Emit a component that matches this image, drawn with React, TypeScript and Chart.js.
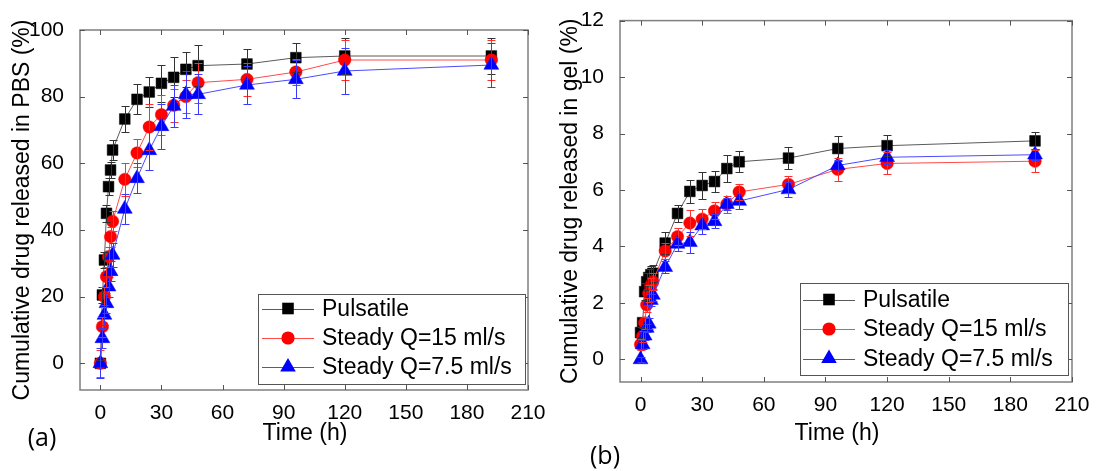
import React, { useEffect, useRef } from 'react';
import { Chart, registerables } from 'chart.js';

Chart.register(...registerables);

// ---- data ----
const times = [0, 1, 2, 3, 4, 5, 6, 12, 18, 24, 30, 36, 42, 48, 72, 96, 120, 192];
const xTickValues = [0, 30, 60, 90, 120, 150, 180, 210];
const yTickValuesA = [0, 20, 40, 60, 80, 100];
const yTickValuesB = [0, 2, 4, 6, 8, 10, 12];
const seriesLabels = ['Pulsatile', 'Steady Q=15 ml/s', 'Steady Q=7.5 ml/s'];

// (a) PBS
const pbsPulsatile = [0, 20.5, 31, 45, 53, 58, 64, 73.3, 79.2, 81.4, 84, 85.8, 88.2, 89.3, 89.8, 91.7, 92.2, 92.2];
const pbsSteady15 = [0, 11, 20, 26, 32, 38, 42.6, 55.2, 63.1, 70.9, 74.6, 77.4, 80, 84.2, 85.2, 87.4, 91, 91];
const pbsSteady75 = [0, 7.5, 14.5, 18, 23, 27.6, 32.5, 46.3, 55.5, 63.9, 71.1, 77.2, 80.7, 80.7, 83.5, 85.2, 87.7, 89.5];
const pbsPulsatileErr = [1, 2.5, 2.5, 2.5, 2.5, 2.5, 3, 4, 4.5, 4.4, 5.6, 6, 5.3, 6.2, 4.4, 4.3, 5.5, 5.5];
const pbsSteady15Err = [4, 3, 3, 3, 3, 3, 3, 5, 4.2, 7, 6, 5, 5, 6, 5, 4, 6, 6];
const pbsSteady75Err = [4.5, 3, 3, 3, 3, 3, 3.5, 4.5, 4.5, 5.9, 6.7, 6.3, 7, 6, 5.7, 5.7, 7, 6.5];

// (b) gel
const gelPulsatile = [0.95, 1.3, 2.4, 2.75, 2.9, 3.0, 3.05, 4.12, 5.17, 5.95, 6.16, 6.3, 6.76, 7.0, 7.13, 7.47, 7.57, 7.74];
const gelSteady15 = [0.53, 0.82, 1.29, 1.93, 2.34, 2.6, 2.75, 3.84, 4.35, 4.83, 4.97, 5.26, 5.5, 5.93, 6.2, 6.73, 6.94, 7.02];
const gelSteady75 = [0, 0.53, 0.84, 1.11, 1.26, 2.1, 2.28, 3.27, 4.09, 4.15, 4.74, 4.89, 5.5, 5.61, 6.02, 6.87, 7.16, 7.25];
const gelPulsatileErr = [0.2, 0.2, 0.3, 0.3, 0.3, 0.3, 0.3, 0.4, 0.3, 0.42, 0.47, 0.37, 0.47, 0.37, 0.4, 0.43, 0.38, 0.3];
const gelSteady15Err = [0.2, 0.2, 0.2, 0.25, 0.3, 0.3, 0.3, 0.3, 0.3, 0.45, 0.35, 0.3, 0.3, 0.3, 0.3, 0.4, 0.39, 0.39];
const gelSteady75Err = [0.1, 0.15, 0.15, 0.15, 0.2, 0.2, 0.2, 0.2, 0.25, 0.37, 0.3, 0.25, 0.2, 0.3, 0.25, 0.2, 0.25, 0.2];

// ---- styles ----
const FONT = "'Liberation Sans', Arial, sans-serif";
const styles = [
  { line: '#5a5a5a', fill: '#000000', err: '#333333', shape: 'rect', radius: 7.6, legendRadius: 8.2 },
  { line: '#ff4a4a', fill: '#ff0000', err: '#ff3030', shape: 'circle', radius: 6.2, legendRadius: 6.6 },
  { line: '#4a4aff', fill: '#0000ff', err: '#3a3aff', shape: 'triangle', radius: 8.6, legendRadius: 9 },
];

function drawMarker(ctx: CanvasRenderingContext2D, shape: string, x: number, y: number, r: number, color: string) {
  ctx.save();
  ctx.fillStyle = color;
  ctx.beginPath();
  if (shape === 'rect') {
    const s = r * Math.SQRT1_2;
    ctx.rect(x - s, y - s, 2 * s, 2 * s);
  } else if (shape === 'circle') {
    ctx.arc(x, y, r, 0, Math.PI * 2);
  } else {
    for (let k = 0; k < 3; k++) {
      const a = k * (2 * Math.PI / 3);
      const px = x + Math.sin(a) * r;
      const py = y - Math.cos(a) * r;
      if (k === 0) ctx.moveTo(px, py); else ctx.lineTo(px, py);
    }
    ctx.closePath();
  }
  ctx.fill();
  ctx.restore();
}

type Panel = {
  values: number[][];
  errors: number[][];
  yTicks: number[];
  yMin: number;
  yMax: number;
  yTitle: string;
  padTop: number;
  padRight: number;
  yWidth: number;
  xHeight: number;
  yTitlePad: number;
  xTitleX: number;
  legend: { left: number; top: number; right: number; bottom: number; rows: number[]; lineX0: number; lineX1: number; textX: number };
};

const panelA: Panel = {
  values: [pbsPulsatile, pbsSteady15, pbsSteady75],
  errors: [pbsPulsatileErr, pbsSteady15Err, pbsSteady75Err],
  yTicks: yTickValuesA,
  yMin: -8,
  yMax: 100,
  yTitle: 'Cumulative drug released in PBS (%)',
  padTop: 30,
  padRight: 22,
  yWidth: 80,
  xHeight: 81,
  yTitlePad: 9,
  xTitleX: 305,
  legend: { left: 258, top: 294, right: 525, bottom: 384, rows: [308.5, 338, 367], lineX0: 262, lineX1: 314, textX: 322 },
};

const panelB: Panel = {
  values: [gelPulsatile, gelSteady15, gelSteady75],
  errors: [gelPulsatileErr, gelSteady15Err, gelSteady75Err],
  yTicks: yTickValuesB,
  yMin: -0.8,
  yMax: 12,
  yTitle: 'Cumulative drug released in gel (%)',
  padTop: 18,
  padRight: 29,
  yWidth: 70,
  xHeight: 89,
  yTitlePad: 7,
  xTitleX: 287,
  legend: { left: 250, top: 283, right: 518, bottom: 375, rows: [299.5, 329, 358.5], lineX0: 253, lineX1: 305, textX: 313 },
};

function makePlugins(p: Panel) {
  const frame = {
    id: 'frame',
    beforeDatasetsDraw(chart: any) {
      const { ctx, chartArea } = chart;
      const { left, top, right, bottom } = chartArea;
      const xs = chart.scales.x;
      const ys = chart.scales.y;
      ctx.save();
      ctx.strokeStyle = '#7f7f7f';
      ctx.lineWidth = 1.5;
      ctx.strokeRect(left, top, right - left, bottom - top);
      ctx.strokeStyle = '#555555';
      ctx.lineWidth = 1;
      ctx.beginPath();
      xTickValues.forEach((v) => {
        const px = Math.round(xs.getPixelForValue(v)) + 0.5;
        ctx.moveTo(px, bottom);
        ctx.lineTo(px, bottom - 5);
        ctx.moveTo(px, top);
        ctx.lineTo(px, top + 5);
      });
      p.yTicks.forEach((v) => {
        const py = Math.round(ys.getPixelForValue(v)) + 0.5;
        ctx.moveTo(left, py);
        ctx.lineTo(left + 5, py);
        ctx.moveTo(right, py);
        ctx.lineTo(right - 5, py);
      });
      ctx.stroke();
      ctx.restore();
    },
  };
  const errorBars = {
    id: 'errorBars',
    afterDatasetsDraw(chart: any) {
      const { ctx } = chart;
      const xs = chart.scales.x;
      const ys = chart.scales.y;
      ctx.save();
      ctx.lineWidth = 1;
      p.values.forEach((vals, i) => {
        ctx.strokeStyle = styles[i].err;
        ctx.beginPath();
        vals.forEach((v, j) => {
          const e = p.errors[i][j];
          const px = Math.round(xs.getPixelForValue(times[j])) + 0.5;
          const yt = Math.round(ys.getPixelForValue(v + e)) + 0.5;
          const yb = Math.round(ys.getPixelForValue(v - e)) + 0.5;
          ctx.moveTo(px, yt);
          ctx.lineTo(px, yb);
          ctx.moveTo(px - 4, yt);
          ctx.lineTo(px + 4, yt);
          ctx.moveTo(px - 4, yb);
          ctx.lineTo(px + 4, yb);
        });
        ctx.stroke();
      });
      ctx.restore();
    },
  };
  const legendAndTitle = {
    id: 'customLegend',
    afterDraw(chart: any) {
      const { ctx } = chart;
      const L = p.legend;
      ctx.save();
      // x axis title
      ctx.font = `23px ${FONT}`;
      ctx.fillStyle = '#000000';
      ctx.textAlign = 'center';
      ctx.textBaseline = 'middle';
      ctx.fillText('Time (h)', p.xTitleX, 434);
      // legend
      ctx.fillStyle = '#ffffff';
      ctx.fillRect(L.left, L.top, L.right - L.left, L.bottom - L.top);
      ctx.strokeStyle = '#555555';
      ctx.lineWidth = 1;
      ctx.strokeRect(L.left + 0.5, L.top + 0.5, L.right - L.left, L.bottom - L.top);
      ctx.textAlign = 'left';
      L.rows.forEach((ry, i) => {
        ctx.strokeStyle = styles[i].line;
        ctx.beginPath();
        ctx.moveTo(L.lineX0, Math.round(ry) + 0.5);
        ctx.lineTo(L.lineX1, Math.round(ry) + 0.5);
        ctx.stroke();
        drawMarker(ctx, styles[i].shape, (L.lineX0 + L.lineX1) / 2, ry, styles[i].legendRadius, styles[i].fill);
        ctx.fillStyle = '#000000';
        ctx.fillText(seriesLabels[i], L.textX, ry + 1);
      });
      ctx.restore();
    },
  };
  return [frame, errorBars, legendAndTitle];
}

function makeConfig(p: Panel): any {
  return {
    type: 'line',
    data: {
      datasets: p.values.map((vals, i) => ({
        label: seriesLabels[i],
        data: times.map((t, j) => ({ x: t, y: vals[j] })),
        borderColor: styles[i].line,
        borderWidth: 1,
        pointStyle: styles[i].shape,
        pointRadius: styles[i].radius,
        pointBackgroundColor: styles[i].fill,
        pointBorderColor: styles[i].fill,
        pointBorderWidth: 0.5,
        tension: 0,
        fill: false,
        order: 3 - i,
        clip: false,
      })),
    },
    options: {
      animation: false,
      responsive: false,
      events: [],
      layout: { padding: { left: 0, top: p.padTop, right: p.padRight, bottom: 0 } },
      plugins: { legend: { display: false }, tooltip: { enabled: false } },
      scales: {
        x: {
          type: 'linear',
          min: -10,
          max: 210,
          afterBuildTicks: (s: any) => {
            s.ticks = xTickValues.map((v) => ({ value: v }));
          },
          afterFit: (s: any) => {
            s.height = p.xHeight;
          },
          grid: { display: false },
          border: { display: false },
          ticks: { color: '#000', font: { family: FONT, size: 21 }, padding: 3, maxRotation: 0, autoSkip: false },
          title: { display: false },
        },
        y: {
          type: 'linear',
          min: p.yMin,
          max: p.yMax,
          afterBuildTicks: (s: any) => {
            s.ticks = p.yTicks.map((v) => ({ value: v }));
          },
          afterFit: (s: any) => {
            s.width = p.yWidth;
          },
          grid: { display: false },
          border: { display: false },
          ticks: { color: '#000', font: { family: FONT, size: 21 }, padding: 8, autoSkip: false },
          title: { display: true, text: p.yTitle, color: '#000', font: { family: FONT, size: 23 }, padding: { top: p.yTitlePad, bottom: 0 } },
        },
      },
    },
    plugins: makePlugins(p),
  };
}

function PanelChart({ panel, left, width }: { panel: Panel; left: number; width: number }) {
  const ref = useRef<HTMLCanvasElement | null>(null);
  useEffect(() => {
    if (!ref.current) return;
    const chart = new Chart(ref.current, makeConfig(panel));
    return () => chart.destroy();
  }, [panel]);
  return (
    <canvas
      ref={ref}
      width={width}
      height={471}
      style={{ position: 'absolute', left, top: 0, width, height: 471 }}
    />
  );
}

const labelStyle: React.CSSProperties = {
  position: 'absolute',
  fontFamily: "'Open Sans', 'Liberation Sans', sans-serif",
  fontSize: 25,
  lineHeight: '30px',
  color: '#000',
  transform: 'translate(-50%, -50%)',
  whiteSpace: 'nowrap',
};

export default function App() {
  return (
    <div style={{ position: 'absolute', left: 0, top: 0, width: 1101, height: 471, background: '#fff', overflow: 'hidden' }}>
      <PanelChart panel={panelA} left={0} width={550} />
      <PanelChart panel={panelB} left={550} width={551} />
      <div style={{ ...labelStyle, left: 42, top: 436 }}>(a)</div>
      <div style={{ ...labelStyle, left: 605, top: 454 }}>(b)</div>
    </div>
  );
}
